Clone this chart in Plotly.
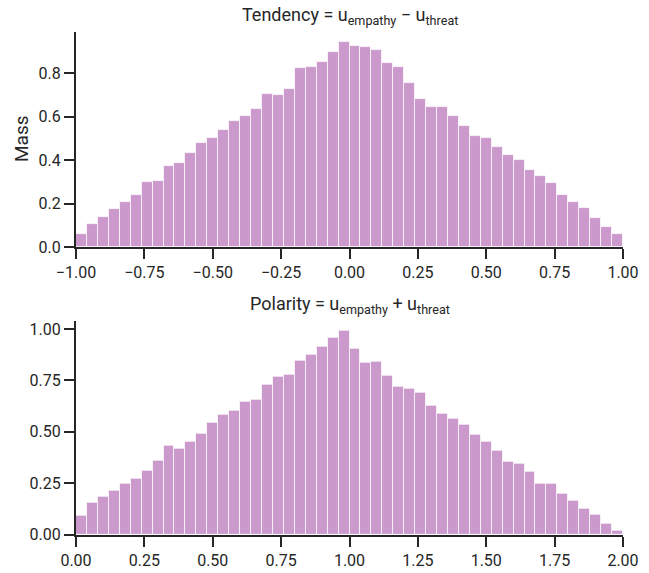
import numpy as np
import plotly.graph_objects as go

# Bin layout
n_bins = 50
tend_range = (-1.0, 1.0)
pol_range = (0.0, 2.0)

# Tendency = u_empathy - u_threat (mass per bin)
tendency_mass = [
    0.058, 0.106, 0.136, 0.173, 0.205, 0.239, 0.297, 0.305, 0.374, 0.385,
    0.431, 0.477, 0.501, 0.538, 0.579, 0.604, 0.633, 0.702, 0.699, 0.725,
    0.821, 0.826, 0.848, 0.895, 0.941, 0.926, 0.921, 0.907, 0.845, 0.825,
    0.753, 0.680, 0.645, 0.642, 0.601, 0.555, 0.510, 0.501, 0.461, 0.423,
    0.400, 0.353, 0.326, 0.293, 0.239, 0.205, 0.179, 0.132, 0.093, 0.058,
]

# Polarity = u_empathy + u_threat
polarity_mass = [
    0.093, 0.153, 0.184, 0.213, 0.249, 0.269, 0.308, 0.358, 0.432, 0.418,
    0.450, 0.492, 0.543, 0.580, 0.604, 0.646, 0.656, 0.729, 0.765, 0.775,
    0.843, 0.872, 0.911, 0.958, 0.990, 0.903, 0.835, 0.838, 0.770, 0.718,
    0.710, 0.690, 0.625, 0.586, 0.564, 0.534, 0.483, 0.450, 0.405, 0.354,
    0.346, 0.306, 0.246, 0.249, 0.200, 0.162, 0.127, 0.098, 0.050, 0.018,
]

tend_ticks = [-1.0, -0.75, -0.5, -0.25, 0.0, 0.25, 0.5, 0.75, 1.0]
tend_ticklabels = ["\u22121.00", "\u22120.75", "\u22120.50", "\u22120.25", "0.00", "0.25", "0.50", "0.75", "1.00"]
tend_yticks = [0.0, 0.2, 0.4, 0.6, 0.8]
tend_yticklabels = ["0.0", "0.2", "0.4", "0.6", "0.8"]
pol_ticks = [0.0, 0.25, 0.5, 0.75, 1.0, 1.25, 1.5, 1.75, 2.0]
pol_ticklabels = ["0.00", "0.25", "0.50", "0.75", "1.00", "1.25", "1.50", "1.75", "2.00"]
pol_yticks = [0.0, 0.25, 0.5, 0.75, 1.0]
pol_yticklabels = ["0.00", "0.25", "0.50", "0.75", "1.00"]

FONT = "Roboto, sans-serif"
BAR = "#CC99CC"
INK = "#262626"

def centers(rng, n):
    e = np.linspace(rng[0], rng[1], n + 1)
    return (e[:-1] + e[1:]) / 2, (rng[1] - rng[0]) / n

xt, wt = centers(tend_range, n_bins)
xp, wp = centers(pol_range, n_bins)

bar_line = dict(color="rgba(255,255,255,0.7)", width=1)
fig = go.Figure()
fig.add_trace(go.Bar(x=xt, y=tendency_mass, width=wt, marker=dict(color=BAR, line=bar_line),
                     xaxis="x", yaxis="y", showlegend=False, hoverinfo="x+y"))
fig.add_trace(go.Bar(x=xp, y=polarity_mass, width=wp, marker=dict(color=BAR, line=bar_line),
                     xaxis="x2", yaxis="y2", showlegend=False, hoverinfo="x+y"))

W, H = 649, 573
xl, xr = 76 / W, 623 / W
top1, bot1 = 32.1, 247.0
top2, bot2 = 320.8, 534.5

axis_common = dict(showline=True, linecolor=INK, linewidth=2, ticks="outside", ticklen=10, tickwidth=2,
                   tickcolor=INK, showgrid=False, zeroline=False, automargin=False,
                   tickfont=dict(family=FONT, size=16, color=INK))

title_font = dict(family=FONT, size=18, color=INK)

fig.update_layout(
    width=W, height=H, margin=dict(l=0, r=0, t=0, b=0, autoexpand=False),
    paper_bgcolor="white", plot_bgcolor="white", bargap=0,
    font=dict(family=FONT, color=INK),
    xaxis=dict(domain=[xl, xr], range=list(tend_range), anchor="y", tickvals=tend_ticks, ticktext=tend_ticklabels, **axis_common),
    yaxis=dict(domain=[(H - bot1) / H, (H - top1) / H], range=[0, max(tendency_mass) * 1.05], anchor="x",
               tickvals=tend_yticks, ticktext=tend_yticklabels, **axis_common),
    xaxis2=dict(domain=[xl, xr], range=list(pol_range), anchor="y2", tickvals=pol_ticks, ticktext=pol_ticklabels, **axis_common),
    yaxis2=dict(domain=[(H - bot2) / H, (H - top2) / H], range=[0, max(polarity_mass) * 1.05], anchor="x2",
                tickvals=pol_yticks, ticktext=pol_yticklabels, **axis_common),
    annotations=[
        dict(text="Tendency = u<sub>empathy</sub> \u2212 u<sub>threat</sub>", x=(xl + xr) / 2, y=(H - 30) / H,
             xref="paper", yref="paper", showarrow=False, xanchor="center", yanchor="bottom",
             font=title_font),
        dict(text="Polarity = u<sub>empathy</sub> + u<sub>threat</sub>", x=(xl + xr) / 2, y=(H - 319) / H,
             xref="paper", yref="paper", showarrow=False, xanchor="center", yanchor="bottom",
             font=title_font),
        dict(text="Mass", x=21 / W, y=(H - 139) / H, xref="paper", yref="paper", showarrow=False,
             xanchor="center", yanchor="middle", textangle=-90, font=dict(family=FONT, size=19, color=INK)),
    ],
)

fig.write_html("out.html")
